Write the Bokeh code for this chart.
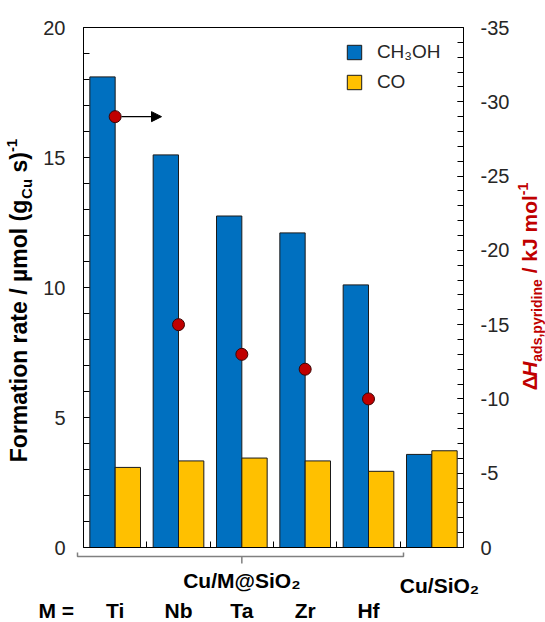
import math
from bokeh.plotting import figure
from bokeh.models import (Range1d, LinearAxis, SingleIntervalTicker, FixedTicker,
                          Label, Arrow, NormalHead, Legend, LegendItem,
                          PrintfTickFormatter, ColumnDataSource)
from bokeh.core.properties import value
from bokeh.embed import file_html
from bokeh.resources import INLINE

# ---------------- data ----------------
metals = ["Ti", "Nb", "Ta", "Zr", "Hf"]
reference_group = "Cu/SiO\u2082"
support_group = "Cu/M@SiO\u2082"
ch3oh_rate = [18.1, 15.1, 12.75, 12.1, 10.1, 3.58]
co_rate = [3.08, 3.33, 3.44, 3.33, 2.93, 3.72]
dh_pyridine = [-29.0, -15.0, -13.0, -12.0, -10.0]
series_names = ["CH\u2083OH", "CO"]
series_colors = ["#0070C0", "#FFC000"]
rate_max = 20
dh_min = -35

# ---------------- layout constants (canvas pixels) ----------------
W, H = 545, 622
FL, FR, FT, FB = 83, 463, 27, 547      # plotting box inside the canvas
FW, FH = FR - FL, FB - FT
XMAX = len(ch3oh_rate)
FONT = "Liberation Sans"
CAP = 0.36                             # cap-centre height above baseline (em)
NB = "\u00a0"

def sx2x(sx):
    return (sx - FL) / FW * XMAX

def sy2y(sy):
    return (FB - sy) / FH * rate_max

def sy2dh(sy):
    return (FB - sy) / FH * dh_min

p = figure(width=W, height=H, min_border=0,
           x_range=Range1d(sx2x(0), sx2x(W)),
           y_range=Range1d(sy2y(H), sy2y(0)),
           x_axis_type=None, y_axis_type=None,
           output_backend="svg", toolbar_location=None)
p.extra_y_ranges = {"dh": Range1d(start=sy2dh(H), end=sy2dh(0))}
p.outline_line_color = None
p.background_fill_color = "white"
p.border_fill_color = "white"

# ---------------- bars and markers ----------------
centers = [i + 0.5 for i in range(XMAX)]
bw = 0.4
r1 = p.vbar(x=[c - bw / 2 for c in centers], top=ch3oh_rate, width=bw,
            fill_color=series_colors[0], line_color="#1a1a1a", line_width=1)
r2 = p.vbar(x=[c + bw / 2 for c in centers], top=co_rate, width=bw,
            fill_color=series_colors[1], line_color="#1a1a1a", line_width=1)

p.scatter(x=centers[:len(dh_pyridine)], y=dh_pyridine, y_range_name="dh",
          size=12, fill_color="#C00000", line_color="#3a0505", line_width=1)

p.add_layout(Arrow(x_start=sx2x(121), y_start=dh_pyridine[0],
                   x_end=sx2x(161), y_end=dh_pyridine[0], y_range_name="dh",
                   line_color="black", line_width=1.2,
                   end=NormalHead(size=10, fill_color="black", line_color="black")))

# ---------------- axes (box) ----------------
def style_y(ax, standoff):
    ax.major_tick_in = 6
    ax.major_tick_out = 0
    ax.minor_tick_in = 6
    ax.minor_tick_out = 0
    ax.major_label_standoff = standoff
    ax.major_label_text_font = FONT
    ax.major_label_text_font_size = "20px"
    ax.major_label_text_color = "#262626"
    ax.axis_line_color = "black"

yl = LinearAxis(fixed_location=0, bounds=(0, rate_max),
                ticker=SingleIntervalTicker(interval=5, num_minor_ticks=5))
style_y(yl, 18)
p.add_layout(yl, "left")

yr = LinearAxis(y_range_name="dh", fixed_location=XMAX, bounds=(dh_min, 0),
                ticker=SingleIntervalTicker(interval=5, num_minor_ticks=5),
                formatter=PrintfTickFormatter(format="%d"))
style_y(yr, 17)
p.add_layout(yr, "right")

xb = LinearAxis(fixed_location=0, bounds=(0, XMAX),
                ticker=FixedTicker(ticks=list(range(1, XMAX)), minor_ticks=[]))
xb.major_tick_in = 6
xb.major_tick_out = 0
xb.minor_tick_in = 0
xb.minor_tick_out = 0
xb.major_label_text_font_size = "0px"
xb.major_label_text_alpha = 0
xb.axis_line_color = "black"
p.add_layout(xb, "below")

xt = LinearAxis(fixed_location=rate_max, bounds=(0, XMAX),
                ticker=FixedTicker(ticks=[], minor_ticks=[]))
xt.major_tick_in = 0
xt.major_tick_out = 0
xt.minor_tick_in = 0
xt.minor_tick_out = 0
xt.major_label_text_font_size = "0px"
xt.axis_line_color = "black"
p.add_layout(xt, "above")

# ---------------- legend ----------------
legend = Legend(items=[LegendItem(label=series_names[0], renderers=[r1]),
                       LegendItem(label=series_names[1], renderers=[r2])],
                location=(344.9, H - 93),
                glyph_width=18, glyph_height=18, label_standoff=14,
                label_height=22, spacing=8, padding=0, margin=0,
                border_line_color=None, background_fill_alpha=0,
                label_text_font=FONT, label_text_font_size="19px",
                label_text_color="#262626")
p.add_layout(legend)

# ---------------- rotated axis titles ----------------
BOLD_W = {
    'a': 556, 'b': 611, 'c': 556, 'd': 611, 'e': 556, 'f': 333, 'g': 611, 'h': 611,
    'i': 278, 'j': 278, 'k': 556, 'l': 278, 'm': 889, 'n': 611, 'o': 611, 'p': 611,
    'r': 389, 's': 556, 't': 333, 'u': 611, 'y': 556,
    'C': 722, 'F': 611, 'H': 722, 'J': 556, 'M': 833, 'O': 778, 'S': 667,
    ' ': 278, NB: 278, '(': 333, ')': 333, '/': 278, ',': 278, '-': 333, '1': 556,
    '\u00b5': 611, '\u0394': 640,
}

def text_w(s, size):
    return sum(BOLD_W.get(c, 556) for c in s) / 1000.0 * size

def rotated(parts, bx, center_y, color):
    """Text reading bottom-to-top; bx is the baseline's canvas x."""
    total = sum(text_w(t, sz) for t, sz, st, dx in parts)
    y = center_y + total / 2
    for t, sz, st, dx in parts:
        cx = bx + dx - CAP * sz
        p.add_layout(Label(x=sx2x(cx), y=sy2y(y), text=t, angle=math.pi / 2,
                           text_align="left", text_baseline="middle",
                           text_font=FONT, text_font_size=f"{sz}px",
                           text_font_style=st, text_color=color))
        y -= text_w(t, sz)

rotated([("Formation rate / \u00b5mol (g", 23, "bold", 0),
         ("Cu", 15, "bold", 4),
         (NB + "s)", 23, "bold", 0),
         ("-1", 15, "bold", -10)], 27, 300, "black")

rotated([("\u0394", 21, "bold", 0),
         ("H", 21, "bold italic", 0),
         ("ads,pyridine", 14, "bold", 5),
         (NB + "/ kJ mol", 21, "bold", 0),
         ("-1", 14, "bold", -9)], 537, 286, "#C00000")

# ---------------- bracket and group labels ----------------
p.multi_line(xs=[[sx2x(77), sx2x(77), sx2x(403), sx2x(403)],
                 [centers[2], centers[2]]],
             ys=[[sy2y(552), sy2y(556), sy2y(556), sy2y(552)],
                 [sy2y(556), sy2y(563)]],
             line_color="#808080", line_width=1.5)

BSIZE = 21
def mid(baseline_cy):
    return sy2y(baseline_cy - CAP * BSIZE)

lab_src = ColumnDataSource(dict(x=centers[:len(metals)], y=[mid(618)] * len(metals),
                                text=metals))
p.text(x="x", y="y", text="text", source=lab_src,
       text_font=value(FONT), text_font_size=f"{BSIZE}px", text_font_style="bold",
       text_align="center", text_baseline="middle", text_color="black")

def blabel(x, cy, text, align="center"):
    p.add_layout(Label(x=x, y=mid(cy), text=text, text_align=align,
                       text_baseline="middle", text_font=FONT,
                       text_font_size=f"{BSIZE}px", text_font_style="bold",
                       text_color="black"))

blabel(centers[2], 588, support_group)
blabel(sx2x(439), 593, reference_group)
blabel(sx2x(38), 618, "M =", align="left")

open("out.html", "w").write(file_html(p, INLINE))
